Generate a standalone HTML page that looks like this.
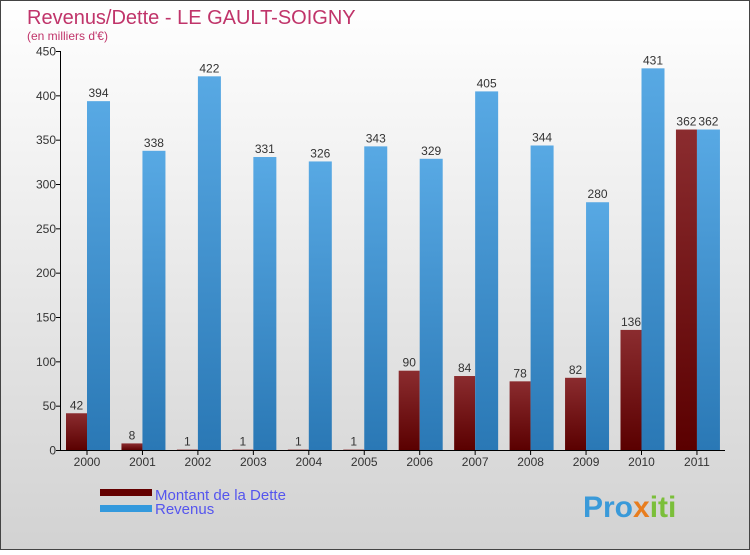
<!DOCTYPE html>
<html><head><meta charset="utf-8"><style>
body{margin:0;}
svg text{font-family:"Liberation Sans",sans-serif;}
</style></head><body>
<svg id="c" width="750" height="550" xmlns="http://www.w3.org/2000/svg">
<defs>
<linearGradient id="bg" x1="0" y1="0" x2="0" y2="1"><stop offset="0" stop-color="#ffffff"/><stop offset="1" stop-color="#d2d2d2"/></linearGradient>
<linearGradient id="gd" x1="0" y1="0" x2="0" y2="1"><stop offset="0" stop-color="#8b2c2f"/><stop offset="1" stop-color="#5a0000"/></linearGradient>
<linearGradient id="gr" x1="0" y1="0" x2="0" y2="1"><stop offset="0" stop-color="#58a9e4"/><stop offset="1" stop-color="#2a78b5"/></linearGradient>
</defs>
<rect x="0.5" y="0.5" width="749" height="549" fill="url(#bg)" stroke="#444"/>
<text x="27" y="24" font-size="20" fill="#c0346a">Revenus/Dette - LE GAULT-SOIGNY</text>
<text x="27" y="40" font-size="12" fill="#c0346a">(en milliers d'€)</text>
<g id="plot"></g>
<rect x="100" y="489" width="52" height="7" fill="#640000"/>
<rect x="100" y="505" width="52" height="7" fill="#3399dd"/>
<text x="155" y="500" font-size="15" fill="#5555ee">Montant de la Dette</text>
<text x="155" y="514" font-size="15" fill="#5555ee">Revenus</text>
<text x="583" y="517" font-size="30" font-weight="bold" fill="#3a9ad9">Pro<tspan fill="#e87d1e">x</tspan><tspan fill="#7bbf3a">iti</tspan></text>
</svg>
<script>
const categories=["2000","2001","2002","2003","2004","2005","2006","2007","2008","2009","2010","2011"];
const dette=[42,8,1,1,1,1,90,84,78,82,136,362];
const revenus=[394,338,422,331,326,343,329,405,344,280,431,362];
const yTicks=[0,50,100,150,200,250,300,350,400,450];
const NS="http://www.w3.org/2000/svg";
const g=document.getElementById("plot");
const y=v=>450.5-v*399/450;
const x=i=>87+i*55.45;
function mk(t,a){const e=document.createElementNS(NS,t);for(const k in a)e.setAttribute(k,a[k]);g.appendChild(e);return e;}
categories.forEach((c,i)=>{
 const d=mk("rect",{x:x(i)-21,y:y(dette[i]),width:21,height:Math.max(450.5-y(dette[i]),1),fill:"url(#gd)"});
 
 
 const r=mk("rect",{x:x(i),y:y(revenus[i]),width:23,height:450.5-y(revenus[i]),fill:"url(#gr)"});
 
 
 const t1=mk("text",{x:x(i)-10.5,y:y(dette[i])-4,"font-size":12,"text-anchor":"middle",fill:"#333"});t1.textContent=dette[i];
 
 
 const t2=mk("text",{x:x(i)+11.5,y:y(revenus[i])-4,"font-size":12,"text-anchor":"middle",fill:"#333"});t2.textContent=revenus[i];
 
 
 const tk=mk("line",{x1:x(i),x2:x(i),y1:450.5,y2:455,stroke:"#000"});
 
 
 const tl=mk("text",{x:x(i),y:466,"font-size":12,"text-anchor":"middle",fill:"#333"});tl.textContent=c;
 
 
});
yTicks.forEach(v=>{
 const l=mk("line",{x1:56,x2:61,y1:y(v),y2:y(v),stroke:"#000"});
 
 
 const t=mk("text",{x:56,y:y(v)+4,"font-size":12,"text-anchor":"end",fill:"#333"});t.textContent=v;
 
 
});
const ya=mk("line",{x1:60.5,x2:60.5,y1:y(450),y2:450.5,stroke:"#000"});


const xa=mk("line",{x1:60,x2:725,y1:450.5,y2:450.5,stroke:"#000"});


</script>
</body></html>
